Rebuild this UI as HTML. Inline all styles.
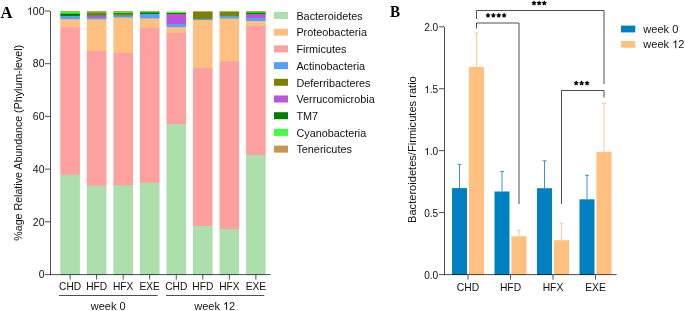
<!DOCTYPE html><html><head><meta charset="utf-8"><style>html,body{margin:0;padding:0;background:#fff;width:685px;height:311px;overflow:hidden}svg{display:block;will-change:transform}text{font-family:"Liberation Sans",sans-serif;fill:#111}</style></head><body>
<svg width="685" height="311" viewBox="0 0 685 311">
<text transform="translate(0.45,17.6) scale(0.96,1)" style="font-family:'Liberation Serif',serif;font-weight:bold;font-size:17.4px;fill:#000">A</text>
<text transform="translate(390.1,17.45) scale(0.87,1)" style="font-family:'Liberation Serif',serif;font-weight:bold;font-size:17.4px;fill:#000">B</text>
<rect x="60.30" y="11" width="19.6" height="1" fill="#abaa4d"/>
<rect x="60.30" y="12" width="19.6" height="1" fill="#40ff40"/>
<rect x="60.30" y="13" width="19.6" height="1" fill="#26cc26"/>
<rect x="60.30" y="14" width="19.6" height="2" fill="#008000"/>
<rect x="60.30" y="16" width="19.6" height="3" fill="#55a0ff"/>
<rect x="60.30" y="19" width="19.6" height="1" fill="#ddba99"/>
<rect x="60.30" y="20" width="19.6" height="7" fill="#ffc080"/>
<rect x="60.30" y="27" width="19.6" height="1" fill="#ffaa96"/>
<rect x="60.30" y="28" width="19.6" height="146" fill="#ffa0a0"/>
<rect x="60.30" y="174" width="19.6" height="1" fill="#efada3"/>
<rect x="60.30" y="175" width="19.6" height="100" fill="#addfad"/>
<rect x="86.84" y="11" width="19.6" height="1" fill="#b9a04e"/>
<rect x="86.84" y="12" width="19.6" height="1" fill="#60c020"/>
<rect x="86.84" y="13" width="19.6" height="1" fill="#808000"/>
<rect x="86.84" y="14" width="19.6" height="1" fill="#4d8d0d"/>
<rect x="86.84" y="15" width="19.6" height="1" fill="#7e7274"/>
<rect x="86.84" y="16" width="19.6" height="1" fill="#bb55d7"/>
<rect x="86.84" y="17" width="19.6" height="1" fill="#9273e7"/>
<rect x="86.84" y="18" width="19.6" height="1" fill="#55a0ff"/>
<rect x="86.84" y="19" width="19.6" height="1" fill="#ccb6a6"/>
<rect x="86.84" y="20" width="19.6" height="31" fill="#ffc080"/>
<rect x="86.84" y="51" width="19.6" height="1" fill="#ffa39d"/>
<rect x="86.84" y="52" width="19.6" height="133" fill="#ffa0a0"/>
<rect x="86.84" y="185" width="19.6" height="1" fill="#e6b3a4"/>
<rect x="86.84" y="186" width="19.6" height="89" fill="#addfad"/>
<rect x="113.38" y="11" width="19.6" height="1" fill="#9eb54b"/>
<rect x="113.38" y="12" width="19.6" height="1" fill="#3af23a"/>
<rect x="113.38" y="13" width="19.6" height="1" fill="#408000"/>
<rect x="113.38" y="14" width="19.6" height="1" fill="#808000"/>
<rect x="113.38" y="15" width="19.6" height="1" fill="#669399"/>
<rect x="113.38" y="16" width="19.6" height="1" fill="#55a0ff"/>
<rect x="113.38" y="17" width="19.6" height="1" fill="#aab0c0"/>
<rect x="113.38" y="18" width="19.6" height="35" fill="#ffc080"/>
<rect x="113.38" y="53" width="19.6" height="132" fill="#ffa0a0"/>
<rect x="113.38" y="185" width="19.6" height="1" fill="#bdd2aa"/>
<rect x="113.38" y="186" width="19.6" height="89" fill="#addfad"/>
<rect x="139.92" y="11" width="19.6" height="1" fill="#90bf4a"/>
<rect x="139.92" y="12" width="19.6" height="1" fill="#1ab31a"/>
<rect x="139.92" y="13" width="19.6" height="1" fill="#008000"/>
<rect x="139.92" y="14" width="19.6" height="4" fill="#55a0ff"/>
<rect x="139.92" y="18" width="19.6" height="1" fill="#bbb3b3"/>
<rect x="139.92" y="19" width="19.6" height="8" fill="#ffc080"/>
<rect x="139.92" y="27" width="19.6" height="1" fill="#ffbd83"/>
<rect x="139.92" y="28" width="19.6" height="154" fill="#ffa0a0"/>
<rect x="139.92" y="182" width="19.6" height="1" fill="#efada3"/>
<rect x="139.92" y="183" width="19.6" height="92" fill="#addfad"/>
<rect x="166.46" y="11" width="19.6" height="1" fill="#b3ffb3"/>
<rect x="166.46" y="12" width="19.6" height="1" fill="#40ff40"/>
<rect x="166.46" y="13" width="19.6" height="1" fill="#406010"/>
<rect x="166.46" y="14" width="19.6" height="10" fill="#bb55d7"/>
<rect x="166.46" y="24" width="19.6" height="3" fill="#55a0ff"/>
<rect x="166.46" y="27" width="19.6" height="1" fill="#eebd8d"/>
<rect x="166.46" y="28" width="19.6" height="5" fill="#ffc080"/>
<rect x="166.46" y="33" width="19.6" height="91" fill="#ffa0a0"/>
<rect x="166.46" y="124" width="19.6" height="1" fill="#b5d9ac"/>
<rect x="166.46" y="125" width="19.6" height="150" fill="#addfad"/>
<rect x="193.00" y="11" width="19.6" height="1" fill="#b3b366"/>
<rect x="193.00" y="12" width="19.6" height="6" fill="#808000"/>
<rect x="193.00" y="18" width="19.6" height="1" fill="#7c831a"/>
<rect x="193.00" y="19" width="19.6" height="1" fill="#55a0ff"/>
<rect x="193.00" y="20" width="19.6" height="1" fill="#eebd8d"/>
<rect x="193.00" y="21" width="19.6" height="47" fill="#ffc080"/>
<rect x="193.00" y="68" width="19.6" height="1" fill="#ffa39d"/>
<rect x="193.00" y="69" width="19.6" height="157" fill="#ffa0a0"/>
<rect x="193.00" y="226" width="19.6" height="49" fill="#addfad"/>
<rect x="219.54" y="11" width="19.6" height="1" fill="#80cc4d"/>
<rect x="219.54" y="12" width="19.6" height="3" fill="#808000"/>
<rect x="219.54" y="15" width="19.6" height="1" fill="#7c8319"/>
<rect x="219.54" y="16" width="19.6" height="2" fill="#55a0ff"/>
<rect x="219.54" y="18" width="19.6" height="1" fill="#aab0c0"/>
<rect x="219.54" y="19" width="19.6" height="42" fill="#ffc080"/>
<rect x="219.54" y="61" width="19.6" height="1" fill="#ffa69a"/>
<rect x="219.54" y="62" width="19.6" height="167" fill="#ffa0a0"/>
<rect x="219.54" y="229" width="19.6" height="46" fill="#addfad"/>
<rect x="246.08" y="11" width="19.6" height="1" fill="#9eb54b"/>
<rect x="246.08" y="12" width="19.6" height="1" fill="#26cc26"/>
<rect x="246.08" y="13" width="19.6" height="1" fill="#008000"/>
<rect x="246.08" y="14" width="19.6" height="3" fill="#bb55d7"/>
<rect x="246.08" y="17" width="19.6" height="1" fill="#b15ddb"/>
<rect x="246.08" y="18" width="19.6" height="3" fill="#55a0ff"/>
<rect x="246.08" y="21" width="19.6" height="4" fill="#ffc080"/>
<rect x="246.08" y="25" width="19.6" height="1" fill="#ffbd83"/>
<rect x="246.08" y="26" width="19.6" height="129" fill="#ffa0a0"/>
<rect x="246.08" y="155" width="19.6" height="120" fill="#addfad"/>
<line x1="50.50" y1="11.00" x2="50.50" y2="275.00" stroke="rgba(0,0,0,0.69)" stroke-width="1"/>
<line x1="45.00" y1="274.60" x2="270.60" y2="274.60" stroke="rgba(0,0,0,0.69)" stroke-width="1"/>
<line x1="45.00" y1="221.80" x2="50.00" y2="221.80" stroke="rgba(0,0,0,0.69)" stroke-width="1"/>
<line x1="45.00" y1="169.10" x2="50.00" y2="169.10" stroke="rgba(0,0,0,0.69)" stroke-width="1"/>
<line x1="45.00" y1="116.40" x2="50.00" y2="116.40" stroke="rgba(0,0,0,0.69)" stroke-width="1"/>
<line x1="45.00" y1="63.70" x2="50.00" y2="63.70" stroke="rgba(0,0,0,0.69)" stroke-width="1"/>
<line x1="45.00" y1="11.00" x2="50.00" y2="11.00" stroke="rgba(0,0,0,0.69)" stroke-width="1"/>
<text x="44.50" y="278.25" font-size="10.5" text-anchor="end">0</text>
<text x="44.50" y="225.55" font-size="10.5" text-anchor="end">20</text>
<text x="44.50" y="172.85" font-size="10.5" text-anchor="end">40</text>
<text x="44.50" y="120.15" font-size="10.5" text-anchor="end">60</text>
<text x="44.50" y="67.45" font-size="10.5" text-anchor="end">80</text>
<text x="44.50" y="14.75" font-size="10.5" text-anchor="end"> 00</text>
<path transform="translate(26.981,14.75) scale(0.005127,-0.005127)" d="M763,0L583,0L583,1147Q518,1085 412.5,1023Q307,961 223,930L223,1104Q374,1175 486.5,1276Q599,1377 647,1472L763,1472Z" fill="#111"/>
<line x1="70.10" y1="275.00" x2="70.10" y2="279.60" stroke="rgba(0,0,0,0.69)" stroke-width="1"/>
<text x="70.10" y="290.40" font-size="10.2" text-anchor="middle">CHD</text>
<line x1="96.64" y1="275.00" x2="96.64" y2="279.60" stroke="rgba(0,0,0,0.69)" stroke-width="1"/>
<text x="96.64" y="290.40" font-size="10.2" text-anchor="middle">HFD</text>
<line x1="123.18" y1="275.00" x2="123.18" y2="279.60" stroke="rgba(0,0,0,0.69)" stroke-width="1"/>
<text x="123.18" y="290.40" font-size="10.2" text-anchor="middle">HFX</text>
<line x1="149.72" y1="275.00" x2="149.72" y2="279.60" stroke="rgba(0,0,0,0.69)" stroke-width="1"/>
<text x="149.72" y="290.40" font-size="10.2" text-anchor="middle">EXE</text>
<line x1="176.26" y1="275.00" x2="176.26" y2="279.60" stroke="rgba(0,0,0,0.69)" stroke-width="1"/>
<text x="176.26" y="290.40" font-size="10.2" text-anchor="middle">CHD</text>
<line x1="202.80" y1="275.00" x2="202.80" y2="279.60" stroke="rgba(0,0,0,0.69)" stroke-width="1"/>
<text x="202.80" y="290.40" font-size="10.2" text-anchor="middle">HFD</text>
<line x1="229.34" y1="275.00" x2="229.34" y2="279.60" stroke="rgba(0,0,0,0.69)" stroke-width="1"/>
<text x="229.34" y="290.40" font-size="10.2" text-anchor="middle">HFX</text>
<line x1="255.88" y1="275.00" x2="255.88" y2="279.60" stroke="rgba(0,0,0,0.69)" stroke-width="1"/>
<text x="255.88" y="290.40" font-size="10.2" text-anchor="middle">EXE</text>
<line x1="59.00" y1="295.50" x2="157.50" y2="295.50" stroke="rgba(0,0,0,0.69)" stroke-width="1"/>
<line x1="166.00" y1="295.50" x2="264.20" y2="295.50" stroke="rgba(0,0,0,0.69)" stroke-width="1"/>
<text x="108.20" y="309.80" font-size="11" text-anchor="middle">week 0</text>
<text x="214.70" y="309.80" font-size="11" text-anchor="middle">week  2</text>
<path transform="translate(222.950,309.80) scale(0.005371,-0.005371)" d="M763,0L583,0L583,1147Q518,1085 412.5,1023Q307,961 223,930L223,1104Q374,1175 486.5,1276Q599,1377 647,1472L763,1472Z" fill="#111"/>
<text transform="translate(22.2,142.8) rotate(-90)" text-anchor="middle" font-size="10.65">%age Relative Abundance (Phylum-level)</text>
<rect x="274" y="12.00" width="14" height="7" fill="#ADDFAD"/>
<text x="296.40" y="19.70" font-size="10.85" text-anchor="start">Bacteroidetes</text>
<rect x="274" y="28.70" width="14" height="7" fill="#FFC080"/>
<text x="296.40" y="36.40" font-size="10.85" text-anchor="start">Proteobacteria</text>
<rect x="274" y="45.40" width="14" height="7" fill="#FFA0A0"/>
<text x="296.40" y="53.10" font-size="10.85" text-anchor="start">Firmicutes</text>
<rect x="274" y="62.10" width="14" height="7" fill="#55A0FF"/>
<text x="296.40" y="69.80" font-size="10.85" text-anchor="start">Actinobacteria</text>
<rect x="274" y="78.80" width="14" height="7" fill="#808000"/>
<text x="296.40" y="86.50" font-size="10.85" text-anchor="start">Deferribacteres</text>
<rect x="274" y="95.50" width="14" height="7" fill="#BB55D7"/>
<text x="296.40" y="103.20" font-size="10.85" text-anchor="start">Verrucomicrobia</text>
<rect x="274" y="112.20" width="14" height="7" fill="#008000"/>
<text x="296.40" y="119.90" font-size="10.85" text-anchor="start">TM7</text>
<rect x="274" y="128.90" width="14" height="7" fill="#40FF40"/>
<text x="296.40" y="136.60" font-size="10.85" text-anchor="start">Cyanobacteria</text>
<rect x="274" y="145.60" width="14" height="7" fill="#C69550"/>
<text x="296.40" y="153.30" font-size="10.85" text-anchor="start">Tenericutes</text>
<rect x="452.00" y="188.10" width="15.00" height="86.90" fill="#0080C0"/>
<rect x="468.90" y="66.90" width="15.10" height="208.10" fill="#FFC080"/>
<line x1="459.50" y1="164.40" x2="459.50" y2="188.10" stroke="#3d94d0" stroke-width="1"/>
<line x1="457.50" y1="164.40" x2="461.50" y2="164.40" stroke="#3d94d0" stroke-width="1"/>
<line x1="476.45" y1="33.00" x2="476.45" y2="66.90" stroke="#ffc890" stroke-width="1"/>
<line x1="474.45" y1="33.00" x2="478.45" y2="33.00" stroke="#ffc890" stroke-width="1"/>
<rect x="494.50" y="191.50" width="15.00" height="83.50" fill="#0080C0"/>
<rect x="511.40" y="236.30" width="15.10" height="38.70" fill="#FFC080"/>
<line x1="502.00" y1="171.61" x2="502.00" y2="191.50" stroke="#3d94d0" stroke-width="1"/>
<line x1="500.00" y1="171.61" x2="504.00" y2="171.61" stroke="#3d94d0" stroke-width="1"/>
<line x1="518.95" y1="230.20" x2="518.95" y2="236.30" stroke="#ffc890" stroke-width="1"/>
<line x1="516.95" y1="230.20" x2="520.95" y2="230.20" stroke="#ffc890" stroke-width="1"/>
<rect x="537.00" y="188.20" width="15.00" height="86.80" fill="#0080C0"/>
<rect x="553.90" y="240.21" width="15.10" height="34.79" fill="#FFC080"/>
<line x1="544.50" y1="160.81" x2="544.50" y2="188.20" stroke="#3d94d0" stroke-width="1"/>
<line x1="542.50" y1="160.81" x2="546.50" y2="160.81" stroke="#3d94d0" stroke-width="1"/>
<line x1="561.45" y1="223.80" x2="561.45" y2="240.21" stroke="#ffc890" stroke-width="1"/>
<line x1="559.45" y1="223.80" x2="563.45" y2="223.80" stroke="#ffc890" stroke-width="1"/>
<rect x="579.50" y="199.30" width="15.00" height="75.70" fill="#0080C0"/>
<rect x="596.40" y="151.80" width="15.10" height="123.20" fill="#FFC080"/>
<line x1="587.00" y1="175.30" x2="587.00" y2="199.30" stroke="#3d94d0" stroke-width="1"/>
<line x1="585.00" y1="175.30" x2="589.00" y2="175.30" stroke="#3d94d0" stroke-width="1"/>
<line x1="603.95" y1="103.40" x2="603.95" y2="151.80" stroke="#ffc890" stroke-width="1"/>
<line x1="601.95" y1="103.40" x2="605.95" y2="103.40" stroke="#ffc890" stroke-width="1"/>
<line x1="444.50" y1="26.80" x2="444.50" y2="275.00" stroke="rgba(0,0,0,0.69)" stroke-width="1"/>
<line x1="439.00" y1="274.60" x2="616.70" y2="274.60" stroke="rgba(0,0,0,0.69)" stroke-width="1"/>
<text x="438.20" y="278.80" font-size="10.1" text-anchor="end">0.0</text>
<line x1="439.00" y1="212.57" x2="444.00" y2="212.57" stroke="rgba(0,0,0,0.69)" stroke-width="1"/>
<text x="438.20" y="216.88" font-size="10.1" text-anchor="end">0.5</text>
<line x1="439.00" y1="150.65" x2="444.00" y2="150.65" stroke="rgba(0,0,0,0.69)" stroke-width="1"/>
<text x="438.20" y="154.95" font-size="10.1" text-anchor="end"> .0</text>
<path transform="translate(424.160,154.95) scale(0.004932,-0.004932)" d="M763,0L583,0L583,1147Q518,1085 412.5,1023Q307,961 223,930L223,1104Q374,1175 486.5,1276Q599,1377 647,1472L763,1472Z" fill="#111"/>
<line x1="439.00" y1="88.73" x2="444.00" y2="88.73" stroke="rgba(0,0,0,0.69)" stroke-width="1"/>
<text x="438.20" y="93.03" font-size="10.1" text-anchor="end"> .5</text>
<path transform="translate(424.160,93.03) scale(0.004932,-0.004932)" d="M763,0L583,0L583,1147Q518,1085 412.5,1023Q307,961 223,930L223,1104Q374,1175 486.5,1276Q599,1377 647,1472L763,1472Z" fill="#111"/>
<line x1="439.00" y1="26.80" x2="444.00" y2="26.80" stroke="rgba(0,0,0,0.69)" stroke-width="1"/>
<text x="438.20" y="31.10" font-size="10.1" text-anchor="end">2.0</text>
<line x1="468.00" y1="275.00" x2="468.00" y2="279.60" stroke="rgba(0,0,0,0.69)" stroke-width="1"/>
<text x="468.00" y="290.60" font-size="10.3" text-anchor="middle">CHD</text>
<line x1="510.50" y1="275.00" x2="510.50" y2="279.60" stroke="rgba(0,0,0,0.69)" stroke-width="1"/>
<text x="510.50" y="290.60" font-size="10.3" text-anchor="middle">HFD</text>
<line x1="553.00" y1="275.00" x2="553.00" y2="279.60" stroke="rgba(0,0,0,0.69)" stroke-width="1"/>
<text x="553.00" y="290.60" font-size="10.3" text-anchor="middle">HFX</text>
<line x1="595.50" y1="275.00" x2="595.50" y2="279.60" stroke="rgba(0,0,0,0.69)" stroke-width="1"/>
<text x="595.50" y="290.60" font-size="10.3" text-anchor="middle">EXE</text>
<text transform="translate(416.1,149.6) rotate(-90)" text-anchor="middle" font-size="11.1">Bacteroidetes/Firmicutes ratio</text>
<path d="M476.5,19 V10.5 H604 V84" fill="none" stroke="rgba(0,0,0,0.69)" stroke-width="1"/>
<path d="M476.5,28.6 V23 H519 V204" fill="none" stroke="rgba(0,0,0,0.69)" stroke-width="1"/>
<path d="M561.5,204 V90.5 H604 V97.5" fill="none" stroke="rgba(0,0,0,0.69)" stroke-width="1"/>
<path d="M534.00,3.10L534.00,1.35M534.00,3.10L535.66,2.56M534.00,3.10L535.03,4.52M534.00,3.10L532.97,4.52M534.00,3.10L532.34,2.56" stroke="#000" stroke-width="1.35" stroke-linecap="round" fill="none"/>
<path d="M539.15,3.10L539.15,1.35M539.15,3.10L540.81,2.56M539.15,3.10L540.18,4.52M539.15,3.10L538.12,4.52M539.15,3.10L537.49,2.56" stroke="#000" stroke-width="1.35" stroke-linecap="round" fill="none"/>
<path d="M544.30,3.10L544.30,1.35M544.30,3.10L545.96,2.56M544.30,3.10L545.33,4.52M544.30,3.10L543.27,4.52M544.30,3.10L542.64,2.56" stroke="#000" stroke-width="1.35" stroke-linecap="round" fill="none"/>
<path d="M488.00,15.40L488.00,13.65M488.00,15.40L489.66,14.86M488.00,15.40L489.03,16.82M488.00,15.40L486.97,16.82M488.00,15.40L486.34,14.86" stroke="#000" stroke-width="1.35" stroke-linecap="round" fill="none"/>
<path d="M493.37,15.40L493.37,13.65M493.37,15.40L495.03,14.86M493.37,15.40L494.40,16.82M493.37,15.40L492.34,16.82M493.37,15.40L491.70,14.86" stroke="#000" stroke-width="1.35" stroke-linecap="round" fill="none"/>
<path d="M498.73,15.40L498.73,13.65M498.73,15.40L500.40,14.86M498.73,15.40L499.76,16.82M498.73,15.40L497.70,16.82M498.73,15.40L497.07,14.86" stroke="#000" stroke-width="1.35" stroke-linecap="round" fill="none"/>
<path d="M504.10,15.40L504.10,13.65M504.10,15.40L505.76,14.86M504.10,15.40L505.13,16.82M504.10,15.40L503.07,16.82M504.10,15.40L502.44,14.86" stroke="#000" stroke-width="1.35" stroke-linecap="round" fill="none"/>
<path d="M576.20,83.20L576.20,81.45M576.20,83.20L577.86,82.66M576.20,83.20L577.23,84.62M576.20,83.20L575.17,84.62M576.20,83.20L574.54,82.66" stroke="#000" stroke-width="1.35" stroke-linecap="round" fill="none"/>
<path d="M581.65,83.20L581.65,81.45M581.65,83.20L583.31,82.66M581.65,83.20L582.68,84.62M581.65,83.20L580.62,84.62M581.65,83.20L579.99,82.66" stroke="#000" stroke-width="1.35" stroke-linecap="round" fill="none"/>
<path d="M587.10,83.20L587.10,81.45M587.10,83.20L588.76,82.66M587.10,83.20L588.13,84.62M587.10,83.20L586.07,84.62M587.10,83.20L585.44,82.66" stroke="#000" stroke-width="1.35" stroke-linecap="round" fill="none"/>
<rect x="621" y="25.6" width="14.3" height="6.8" fill="#0080C0"/>
<rect x="621" y="41" width="14.3" height="6.8" fill="#FFC080"/>
<text x="643.30" y="33.00" font-size="11.05" text-anchor="start">week 0</text>
<text x="643.30" y="48.20" font-size="11.05" text-anchor="start">week  2</text>
<path transform="translate(672.166,48.20) scale(0.005396,-0.005396)" d="M763,0L583,0L583,1147Q518,1085 412.5,1023Q307,961 223,930L223,1104Q374,1175 486.5,1276Q599,1377 647,1472L763,1472Z" fill="#111"/>
</svg></body></html>
